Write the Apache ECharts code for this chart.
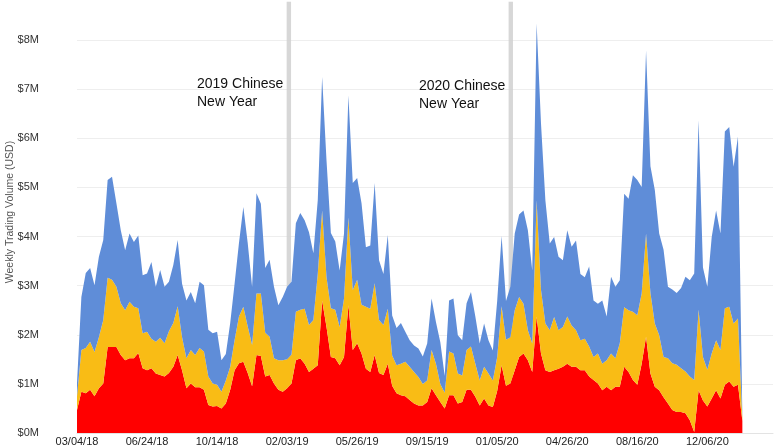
<!DOCTYPE html>
<html><head><meta charset="utf-8">
<script src="https://cdn.jsdelivr.net/npm/echarts@6/dist/echarts.min.js"></script>
<style>html,body{margin:0;padding:0;background:#fff}#c{width:775px;height:445px}</style>
</head><body><div id="c"></div>
<script>
// ---- data (values in $M, weekly from 03/04/18) ----
const startDateUTC = [2018, 2, 4];
const axisWeeks = 160;
const labelEvery = 16;
const lastLabelIndex = 144;

const redVals = [
.47,.84,.81,.88,.75,.91,1.01,1.75,1.75,1.75,
1.59,1.48,1.52,1.52,1.63,1.32,1.28,1.32,1.21,1.18,
1.15,1.22,1.35,1.59,1.28,.91,1.01,.93,.93,.88,
.57,.54,.55,.50,.60,.88,1.28,1.42,1.45,1.22,
.95,1.59,1.57,1.15,1.18,1.01,.88,.84,.91,1.01,
1.48,1.52,1.41,1.24,1.31,1.38,2.70,2.16,1.55,1.52,
1.38,1.55,2.60,1.69,1.83,1.62,1.31,1.24,1.59,1.22,
1.18,1.41,.96,.81,.77,.75,.67,.60,.56,.56,
.63,.91,.77,.63,.50,.77,.77,.60,.63,.88,
.88,.74,.56,.70,.56,.53,.86,1.38,.96,1.01,
1.28,1.55,1.62,1.48,1.24,2.37,1.62,1.28,1.24,1.28,
1.31,1.35,1.41,1.35,1.35,1.28,1.28,1.15,1.08,1.01,
.87,.94,.87,.94,.94,1.35,1.24,1.08,.98,1.41,
1.96,1.21,.94,.87,.73,.60,.47,.43,.43,.40,
.26,.02,.87,.66,.54,.70,.87,.70,.98,1.05,
.94,.98,.25];

const yellowVals = [
.28,.85,.92,.98,.90,1.04,1.29,1.41,1.37,1.23,
1.05,1.02,1.15,1.05,.91,.71,.78,.60,.65,.76,
.68,.85,.89,.99,.67,.61,.68,.66,.80,.78,
.58,.47,.43,.34,.47,.47,.61,.95,1.12,.95,
.84,1.25,1.27,.89,.78,.51,.60,.64,.59,.59,
.99,.99,1.12,.96,.99,1.86,1.83,1.01,.99,.99,
.78,1.19,1.79,1.22,1.29,.99,1.26,1.29,1.46,1.08,
1.02,1.12,.62,.57,.64,.70,.68,.64,.58,.44,
.44,.78,.64,.37,.32,.89,.85,.61,.54,.81,
.88,.67,.51,.65,.65,.54,.69,1.20,.94,.94,
1.22,1.22,1.01,.61,.58,2.37,1.29,.95,.85,1.08,
.78,.81,.96,.84,.74,.61,.64,.61,.47,.61,
.54,.54,.75,.58,.89,1.21,1.26,1.39,1.42,1.43,
2.10,1.64,1.29,1.12,.82,.92,.95,.96,.89,.85,
.89,1.06,1.64,.89,.75,.92,1.02,.99,1.56,1.52,
1.29,1.35,.05];

const blueVals = [
.27,1.08,1.53,1.50,1.36,1.64,1.63,1.99,2.10,1.70,
1.49,1.22,1.39,1.32,1.48,1.18,1.19,1.56,1.12,1.38,
1.15,1.01,1.18,1.35,1.09,1.18,1.18,1.05,1.35,1.35,
.95,1.02,1.08,.64,.54,.89,1.15,1.50,2.03,1.70,
1.19,2.04,1.83,1.32,1.57,1.46,1.12,1.29,1.48,1.48,
1.80,1.97,1.80,1.89,1.36,1.50,2.72,2.38,1.53,1.39,
1.15,1.32,2.48,2.18,2.07,2.07,1.21,1.29,2.04,1.22,
1.04,1.50,.81,.76,.83,.61,.54,.54,.58,.56,
.75,1.05,.85,.85,.34,1.04,1.12,.78,.72,.95,
1.11,.96,.75,.88,.68,.61,1.15,1.43,.79,1.03,
1.56,1.68,1.90,2.04,1.49,3.60,3.39,2.51,1.77,1.63,
1.50,1.36,1.76,1.60,1.83,1.35,1.25,1.63,1.15,1.01,
1.29,.89,1.56,1.46,1.28,2.31,2.27,2.78,2.75,2.17,
3.73,2.58,2.72,2.07,2.18,1.46,1.50,1.46,1.63,1.93,
1.96,2.17,3.86,1.82,1.69,2.37,2.64,2.37,3.60,3.66,
3.19,3.70,.05];

const yTickValues = [0,1,2,3,4,5,6,7,8];
const cnyWeekSpans = [[47.9, 48.9], [98.6, 99.6]];
const cnyTexts = ['2019 Chinese\nNew Year', '2020 Chinese\nNew Year'];
const yAxisTitle = 'Weekly Trading Volume (USD)';

// ---- build categories (weekly dates) ----
const pad = n => (n < 10 ? '0' : '') + n;
const t0 = Date.UTC(startDateUTC[0], startDateUTC[1], startDateUTC[2]);
const categories = [];
for (let i = 0; i < axisWeeks; i++) {
  const d = new Date(t0 + i * 7 * 86400000);
  categories.push(pad(d.getUTCMonth() + 1) + '/' + pad(d.getUTCDate()) + '/' + pad(d.getUTCFullYear() % 100));
}

const FONT = '"Liberation Sans", Arial, Helvetica, sans-serif';
const chart = echarts.init(document.getElementById('c'), null, {renderer: 'canvas'});

const areaSeries = (name, data, color, z) => ({
  name, type: 'line', stack: 'vol', data, symbol: 'none', showSymbol: false,
  lineStyle: {width: 0}, areaStyle: {color, opacity: 1}, itemStyle: {color},
  z, silent: true, animation: false
});

chart.setOption({
  animation: false,
  textStyle: {fontFamily: FONT},
  grid: {left: 77, right: 2, top: -9, bottom: 12, outerBoundsMode: 'none', containLabel: false},
  xAxis: [{
    type: 'category', data: categories, boundaryGap: false,
    axisLine: {show: true, lineStyle: {color: '#e3e3e3', width: 1}},
    axisTick: {show: false},
    axisLabel: {
      interval: (i) => i % labelEvery === 0 && i <= lastLabelIndex,
      color: '#222', fontSize: 11, margin: 3, fontFamily: FONT
    },
    splitLine: {show: false}
  }, {
    type: 'value', min: 0, max: axisWeeks - 1, show: false
  }],
  yAxis: {
    type: 'value', min: 0, max: 9, interval: 1,
    name: yAxisTitle, nameLocation: 'middle', nameGap: 61, nameRotate: 90,
    nameMoveOverlap: false,
    nameTextStyle: {color: '#555', fontSize: 10.5, fontFamily: FONT},
    axisLine: {show: false}, axisTick: {show: false},
    axisLabel: {
      formatter: v => yTickValues.indexOf(v) >= 0 ? '$' + v + 'M' : '',
      color: '#333', fontSize: 11, margin: 38, fontFamily: FONT
    },
    splitLine: {lineStyle: {color: '#eeeeee', width: 1}}
  },
  series: [
    areaSeries('Red', redVals, '#ff0000', 2),
    areaSeries('Yellow', yellowVals, '#f9bc15', 2),
    areaSeries('Blue', blueVals, '#5f8dd8', 2),
    {
      type: 'line', xAxisIndex: 1, data: [], z: 5, silent: true,
      markArea: {
        silent: true,
        itemStyle: {color: 'rgba(208,208,208,0.85)'},
        data: cnyWeekSpans.map(s => [{xAxis: s[0], yAxis: 0}, {xAxis: s[1], yAxis: 8.78}])
      }
    }
  ],
  graphic: [
    {type: 'text', left: 197, top: 75, z: 10,
     style: {text: cnyTexts[0], fill: '#111', font: '14px ' + FONT, lineHeight: 18}},
    {type: 'text', left: 419, top: 77, z: 10,
     style: {text: cnyTexts[1], fill: '#111', font: '14px ' + FONT, lineHeight: 18}}
  ]
});
</script></body></html>
